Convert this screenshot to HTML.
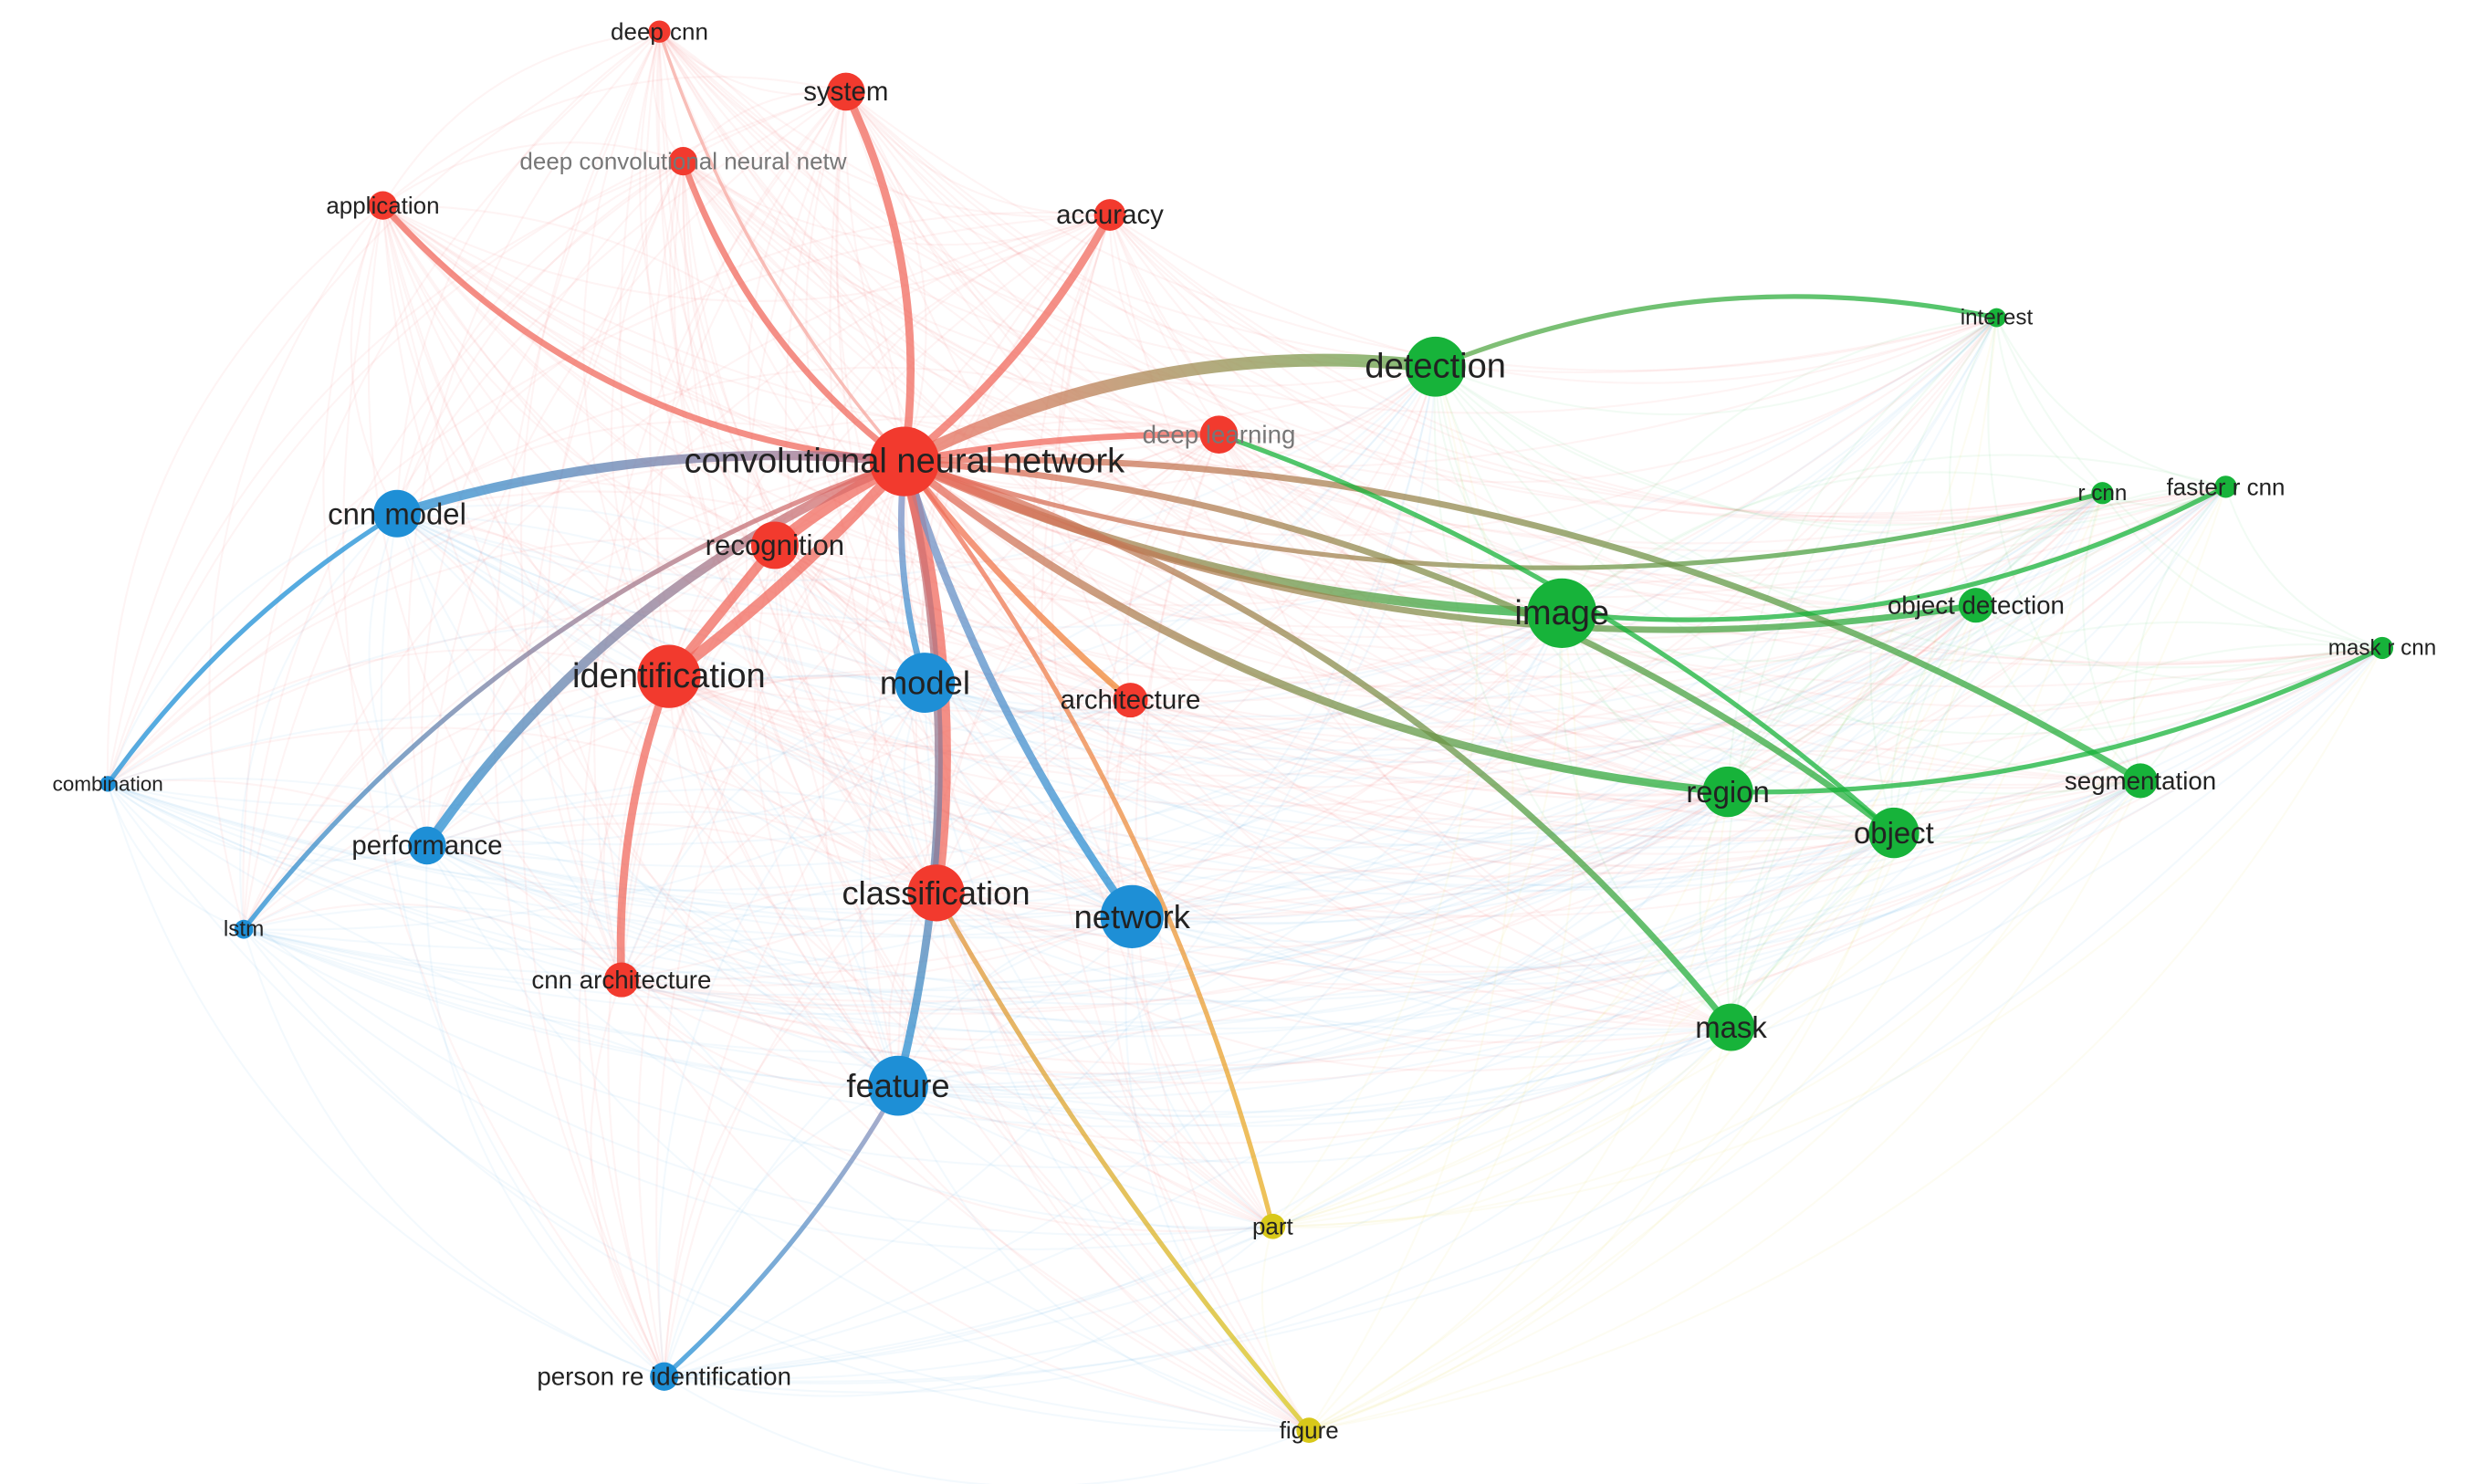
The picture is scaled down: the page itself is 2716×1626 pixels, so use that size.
<!DOCTYPE html>
<html><head><meta charset="utf-8"><style>
html,body{margin:0;padding:0;background:#fff;}
svg{display:block}
text{font-family:"Liberation Sans",sans-serif;fill:#222;text-anchor:middle;dominant-baseline:central}
</style></head><body>
<svg id="s" width="2716" height="1626" viewBox="0 0 1568 939" xmlns="http://www.w3.org/2000/svg">
<g id="faint"></g><g id="strong"></g><g id="nodes"></g><g id="labels"></g>
</svg>
<script>
const R='#f23a2e',B='#1e8fd6',G='#17b33a',Y='#d8c81a';
const N={
cnn:[572,292,22,R,'convolutional neural network',22],
deepcnn:[417,20,7,R,'deep cnn',15],
system:[535,58,12,R,'system',17],
dcnn:[432,102,9,R,'deep convolutional neural netw',15],
app:[242,130,9,R,'application',15],
acc:[702,136,10,R,'accuracy',17],
dl:[771,275,12,R,'deep learning',16],
rec:[490,345,15,R,'recognition',18],
ident:[423,428,20,R,'identification',22],
model:[585,432,19,B,'model',21],
arch:[715,443,11,R,'architecture',17],
cls:[592,565,18,R,'classification',21],
net:[716,580,20,B,'network',21],
carch:[393,620,11,R,'cnn architecture',16],
feat:[568,687,19,B,'feature',21],
cmodel:[251,325,15,B,'cnn model',19],
comb:[68,496,5,B,'combination',13],
perf:[270,535,12,B,'performance',17],
lstm:[154,588,6,B,'lstm',14],
pri:[420,871,9,B,'person re identification',16],
part:[805,776,8,Y,'part',15],
fig:[828,905,8,Y,'figure',15],
det:[908,232,19,G,'detection',22],
int:[1263,201,6,G,'interest',14],
rcnn:[1330,312,7,G,'r cnn',14],
frcnn:[1408,308,7,G,'faster r cnn',15],
img:[988,388,22,G,'image',22],
od:[1250,383,11,G,'object detection',16],
mrcnn:[1507,410,7,G,'mask r cnn',14],
reg:[1093,501,16,G,'region',19],
obj:[1198,527,16,G,'object',19],
seg:[1354,494,11,G,'segmentation',16],
mask:[1095,650,15,G,'mask',19]};
const ns='http://www.w3.org/2000/svg';
const svg=document.getElementById('s');
const defs=document.createElementNS(ns,'defs');svg.prepend(defs);
let gid=0;
function el(t,a,p){const e=document.createElementNS(ns,t);for(const k in a)e.setAttribute(k,a[k]);p.appendChild(e);return e;}
function path(a,b,bend){const[x1,y1]=a,[x2,y2]=b;const mx=(x1+x2)/2,my=(y1+y2)/2,dx=x2-x1,dy=y2-y1;
return `M${x1},${y1} Q${mx-dy*bend},${my+dx*bend} ${x2},${y2}`;}
const keys=Object.keys(N);const fg=document.getElementById('faint');
for(let i=0;i<keys.length;i++)for(let j=i+1;j<keys.length;j++){
 const a=N[keys[i]],b=N[keys[j]];
 el('path',{d:path(a,b,0.25),stroke:a[3],'stroke-width':1.2,fill:'none',opacity:0.055},fg);}
const sg=document.getElementById('strong');
function E(a,b,w,bend,c1,c2){a=N[a];b=N[b];c1=c1||a[3];c2=c2||b[3];let st=c1;
 if(c1!==c2){const id='g'+(gid++);const lg=el('linearGradient',{id,gradientUnits:'userSpaceOnUse',x1:a[0],y1:a[1],x2:b[0],y2:b[1]},defs);
 el('stop',{offset:0,'stop-color':c1},lg);el('stop',{offset:1,'stop-color':c2},lg);st=`url(#${id})`;}
 el('path',{d:path(a,b,bend),stroke:st,'stroke-width':w,fill:'none',opacity:0.75,'stroke-linecap':'round'},sg);}
const r='#f06a5e';
E('cnn','system',5,0.15,r,r);E('cnn','dcnn',4,-0.15,r,r);E('cnn','app',4,-0.2,r,r);E('cnn','deepcnn',2,-0.1,'#f5a8a0','#f5a8a0');
E('cnn','acc',5,0.1,r,r);E('cnn','rec',8,0.05,r,r);E('cnn','ident',7,-0.05,r,r);E('cnn','cls',8,-0.1,r,r);
E('cnn','arch',4,0.05,r,'#f08a30');E('cnn','dl',4,-0.05,r,r);E('ident','carch',5,0.1,r,r);E('ident','rec',6,0,r,r);
E('cnn','det',8,-0.15,r,'#5da84a');E('cnn','img',6,0.1,r,G);E('cnn','reg',5,0.15,r,G);E('cnn','obj',4,-0.15,r,G);
E('cnn','mask',4,-0.15,r,G);E('cnn','od',4,0.15,r,G);E('cnn','rcnn',3,0.15,r,G);E('cnn','seg',4,-0.15,r,G);
E('cnn','cmodel',6,0.1,'#c07080',B);E('cnn','lstm',3,0.15,r,B);E('cnn','perf',6,0.15,r,B);E('cnn','net',5,0.08,'#8090c0',B);
E('cnn','feat',5,-0.12,r,B);E('cnn','part',3,-0.1,r,'#e8b020');E('cls','fig',3,0.05,'#e0903a',Y);E('feat','pri',3,-0.08,'#9090b8',B);
E('cmodel','comb',3,0.1,B,B);E('det','int',3,-0.15,'#5da84a',G);E('img','frcnn',3,0.15,G,G);E('reg','mrcnn',3,0.12,G,G);
E('dl','obj',3,-0.1,G,G);E('cnn','model',4,0.1,'#9090c0',B);
const ng=document.getElementById('nodes'),lg=document.getElementById('labels');
for(const k of keys){const n=N[k];el('circle',{cx:n[0],cy:n[1],r:n[2],fill:n[3]},ng);
 const t=el('text',{x:n[0],y:n[1],'font-size':n[5]},lg);t.textContent=n[4];
 if(k==='dl'||k==='dcnn')t.setAttribute('style','fill:#777');}
</script>
</body></html>
